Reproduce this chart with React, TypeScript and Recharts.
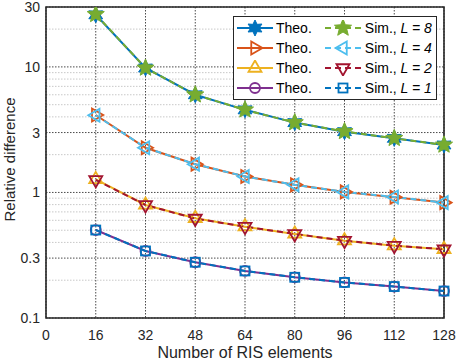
import React from "react";
import {
  LineChart,
  Line,
  XAxis,
  YAxis,
  CartesianGrid,
  ReferenceArea,
} from "recharts";

// number of RIS elements (x axis)
const elements = [16, 32, 48, 64, 80, 96, 112, 128];

// relative difference
const theoL8 = [26, 9.8, 6.0, 4.55, 3.6, 3.05, 2.7, 2.39];
const simL8 = [26.2, 9.8, 6.0, 4.55, 3.6, 3.06, 2.7, 2.39];
const theoL4 = [4.14, 2.27, 1.68, 1.34, 1.15, 1.01, 0.916, 0.83];
const simL4 = [4.12, 2.27, 1.68, 1.34, 1.15, 1.01, 0.92, 0.83];
const theoL2 = [1.27, 0.795, 0.623, 0.534, 0.467, 0.413, 0.377, 0.353];
const simL2 = [1.26, 0.795, 0.62, 0.534, 0.467, 0.413, 0.377, 0.353];
const theoL1 = [0.502, 0.342, 0.278, 0.237, 0.211, 0.192, 0.178, 0.164];
const simL1 = [0.502, 0.342, 0.278, 0.237, 0.211, 0.192, 0.178, 0.164];

const xTicks = [0, 16, 32, 48, 64, 80, 96, 112, 128];
const yTicks = [0.1, 0.3, 1, 3, 10, 30];
const yMinor = [0.2, 0.4, 0.5, 0.6, 0.7, 0.8, 0.9, 2, 4, 5, 6, 7, 8, 9, 20];

const data = elements.map((n, i) => ({
  n,
  theo8: theoL8[i],
  sim8: simL8[i],
  theo4: theoL4[i],
  sim4: simL4[i],
  theo2: theoL2[i],
  sim2: simL2[i],
  theo1: theoL1[i],
  sim1: simL1[i],
}));

type Shape =
  | "hexagram"
  | "pentagram"
  | "triRight"
  | "triLeft"
  | "triUp"
  | "triDown"
  | "circle"
  | "square";

interface SeriesDef {
  key: string;
  color: string;
  shape: Shape;
  dashed: boolean;
  L: number;
}

const theoSeries: SeriesDef[] = [
  { key: "theo8", color: "#0072BD", shape: "hexagram", dashed: false, L: 8 },
  { key: "theo4", color: "#D95319", shape: "triRight", dashed: false, L: 4 },
  { key: "theo2", color: "#EDB120", shape: "triUp", dashed: false, L: 2 },
  { key: "theo1", color: "#7E2F8E", shape: "circle", dashed: false, L: 1 },
];

const simSeries: SeriesDef[] = [
  { key: "sim8", color: "#77AC30", shape: "pentagram", dashed: true, L: 8 },
  { key: "sim4", color: "#4DBEEE", shape: "triLeft", dashed: true, L: 4 },
  { key: "sim2", color: "#A2142F", shape: "triDown", dashed: true, L: 2 },
  { key: "sim1", color: "#0072BD", shape: "square", dashed: true, L: 1 },
];

const FONT = "'Liberation Sans', Arial, Helvetica, sans-serif";
const AXIS = "#262626";

function star(cx: number, cy: number, n: number, ro: number, ri: number) {
  const pts: string[] = [];
  for (let i = 0; i < n * 2; i++) {
    const r = i % 2 === 0 ? ro : ri;
    const a = -Math.PI / 2 + (i * Math.PI) / n;
    pts.push(`${cx + r * Math.cos(a)},${cy + r * Math.sin(a)}`);
  }
  return pts.join(" ");
}

function tri(cx: number, cy: number, r: number, rot: number) {
  const pts: string[] = [];
  for (let i = 0; i < 3; i++) {
    const a = rot + (i * 2 * Math.PI) / 3;
    pts.push(`${cx + r * Math.cos(a)},${cy + r * Math.sin(a)}`);
  }
  return pts.join(" ");
}

function Marker({
  shape,
  cx,
  cy,
  color,
}: {
  shape: Shape;
  cx: number;
  cy: number;
  color: string;
}) {
  const sw = 1.8;
  switch (shape) {
    case "hexagram":
      return (
        <polygon
          points={star(cx, cy, 6, 8, 4.2)}
          fill={color}
          stroke={color}
          strokeWidth={1}
        />
      );
    case "pentagram":
      return (
        <polygon
          points={star(cx, cy, 5, 9, 4)}
          fill={color}
          stroke={color}
          strokeWidth={1}
        />
      );
    case "triRight":
      return <polygon points={tri(cx, cy, 7.5, 0)} fill="none" stroke={color} strokeWidth={sw} />;
    case "triLeft":
      return <polygon points={tri(cx, cy, 7.5, Math.PI)} fill="none" stroke={color} strokeWidth={sw} />;
    case "triUp":
      return <polygon points={tri(cx, cy, 7.5, -Math.PI / 2)} fill="none" stroke={color} strokeWidth={sw} />;
    case "triDown":
      return <polygon points={tri(cx, cy, 7.5, Math.PI / 2)} fill="none" stroke={color} strokeWidth={sw} />;
    case "circle":
      return <circle cx={cx} cy={cy} r={5} fill="none" stroke={color} strokeWidth={sw} />;
    case "square":
      return (
        <rect x={cx - 4.5} y={cy - 4.5} width={9} height={9} fill="none" stroke={color} strokeWidth={sw} />
      );
  }
  return null;
}

function YLabel(props: any) {
  const { viewBox } = props;
  const y = viewBox.y + viewBox.height / 2 - 3;
  return (
    <text
      x={15}
      y={y}
      transform={`rotate(-90, 15, ${y})`}
      textAnchor="middle"
      fill={AXIS}
      fontSize={15}
      fontFamily={FONT}
    >
      Relative difference
    </text>
  );
}

function XLabel(props: any) {
  const { viewBox } = props;
  return (
    <text
      x={viewBox.x + viewBox.width / 2}
      y={358}
      textAnchor="middle"
      fill={AXIS}
      fontSize={16}
      fontFamily={FONT}
    >
      Number of RIS elements
    </text>
  );
}

function LegendIcon({ s }: { s: SeriesDef }) {
  return (
    <svg width={40} height={16} style={{ display: "block" }}>
      <line
        x1={2}
        y1={8}
        x2={38}
        y2={8}
        stroke={s.color}
        strokeWidth={2}
        strokeDasharray={s.dashed ? "6 4" : undefined}
      />
      <Marker shape={s.shape} cx={20} cy={8} color={s.color} />
    </svg>
  );
}

function ChartLegend() {
  return (
    <div
      style={{
        position: "absolute",
        left: 233,
        top: 16,
        width: 202,
        height: 82,
        background: "#fff",
        border: `1.5px solid ${AXIS}`,
        fontFamily: FONT,
        fontSize: 14,
        color: "#000",
      }}
    >
      {theoSeries.map((t, i) => {
        const s = simSeries[i];
        return (
          <div
            key={t.key}
            style={{
              position: "absolute",
              top: 2 + i * 20.3,
              left: 0,
              height: 17,
              display: "flex",
              alignItems: "center",
              whiteSpace: "nowrap",
            }}
          >
            <div style={{ marginLeft: 1 }}>
              <LegendIcon s={t} />
            </div>
            <span style={{ marginLeft: 1 }}>Theo.</span>
            <div style={{ marginLeft: 11 }}>
              <LegendIcon s={s} />
            </div>
            <span style={{ marginLeft: 2 }}>
              Sim., <i>L = {s.L}</i>
            </span>
          </div>
        );
      })}
    </div>
  );
}

export default function App() {
  const all = [...theoSeries, ...simSeries];
  return (
    <div
      style={{
        position: "absolute",
        left: 0,
        top: 0,
        width: 456,
        height: 362,
        background: "#fff",
      }}
    >
      <LineChart
        width={456}
        height={362}
        data={data}
        margin={{ top: 7, right: 12, left: 0, bottom: 0 }}
      >
        <CartesianGrid
          horizontalValues={yMinor}
          verticalValues={[]}
          vertical={false}
          stroke="#c8c8c8"
          strokeDasharray="1.5 1.5"
        />
        <CartesianGrid
          horizontalValues={yTicks}
          verticalValues={xTicks}
          stroke="#4a4a4a"
          strokeDasharray="1.5 1.5"
        />
        <XAxis
          dataKey="n"
          type="number"
          domain={[0, 128]}
          ticks={xTicks}
          interval={0}
          axisLine={false}
          tickLine={false}
          tickSize={0}
          tickMargin={12}
          height={44}
          tick={{ fill: AXIS, fontSize: 14, fontFamily: FONT }}
          label={<XLabel />}
        />
        <YAxis
          scale="log"
          domain={[0.1, 30]}
          ticks={yTicks}
          interval={0}
          allowDataOverflow
          axisLine={false}
          tickLine={false}
          tickSize={0}
          tickMargin={6}
          width={46}
          tick={{ fill: AXIS, fontSize: 14, fontFamily: FONT }}
          label={<YLabel />}
        />
        <YAxis
          yAxisId="right"
          orientation="right"
          mirror
          scale="log"
          domain={[0.1, 30]}
          ticks={[...yTicks, ...yMinor]}
          interval={0}
          allowDataOverflow
          axisLine={false}
          tick={false}
          tickLine={{ stroke: AXIS, strokeWidth: 1.2 }}
          tickSize={4}
          width={0}
        />
        <ReferenceArea
          x1={0}
          x2={128}
          y1={0.1}
          y2={30}
          fill="none"
          fillOpacity={0}
          stroke={AXIS}
          strokeWidth={1.6}
        />
        {all.map((s) => (
          <Line
            key={s.key}
            dataKey={s.key}
            stroke={s.color}
            strokeWidth={2}
            strokeDasharray={s.dashed ? "6 4" : undefined}
            isAnimationActive={false}
            dot={(p: any) => (
              <Marker
                key={`${s.key}-${p.index}`}
                shape={s.shape}
                cx={p.cx}
                cy={p.cy}
                color={s.color}
              />
            )}
            activeDot={false}
          />
        ))}
      </LineChart>
      <ChartLegend />
    </div>
  );
}
